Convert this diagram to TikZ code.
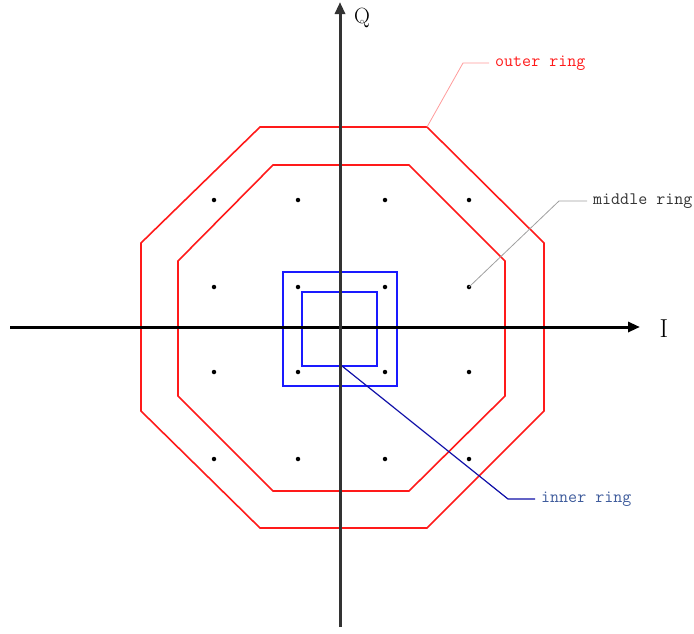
\documentclass[tikz,border=0pt]{standalone}
\usepackage{fontspec}
\usetikzlibrary{arrows.meta}
\definecolor{ringred}{HTML}{FF1A1A}
\definecolor{leadred}{HTML}{FF9A9A}
\definecolor{ringblue}{HTML}{1A1AFF}
\definecolor{leadblue}{HTML}{1010A8}
\definecolor{txtblue}{HTML}{3F5C9C}
\definecolor{txtgray}{HTML}{333333}
\definecolor{leadgray}{HTML}{A0A0A0}
\definecolor{axisgray}{HTML}{333333}
\tikzset{
  axisline/.style={line width=3pt,-{Triangle[length=12pt,width=10pt]}},
  redring/.style={draw=ringred,line width=1.6pt,line join=miter},
  bluering/.style={draw=ringblue,line width=1.6pt},
  dot/.style={circle,fill=black,inner sep=0pt,minimum size=4.5pt},
  lbl/.style={font=\ttfamily\fontsize{17.5}{20}\selectfont,anchor=west,inner xsep=6pt,inner ysep=0pt},
  axlbl/.style={font=\fontsize{22}{24}\selectfont,inner sep=0pt}
}
\begin{document}
\begin{tikzpicture}[x=1pt,y=-1pt]
\useasboundingbox (0,0) rectangle (694,633);
% rings
\draw[redring] (260,127) -- (427,127) -- (544,243) -- (544,411) -- (427,528) -- (260,528) -- (141,411) -- (141,243) -- cycle;
\draw[redring] (273,165) -- (409,165) -- (505,261) -- (505,396) -- (409,491) -- (273,491) -- (178,396) -- (178,261) -- cycle;
\draw[bluering] (283,272) rectangle (397,386);
\draw[bluering] (302,292) rectangle (377,366);
% axes
\coordinate (xs) at (10,327);
\coordinate (xe) at (640,327);
\coordinate (ys) at (340,627);
\coordinate (ye) at (340,2);
\draw[axisline,black] (xs) -- (xe);
\draw[axisline,axisgray] (ys) -- (ye);
\node[axlbl] (Q) at (362,18) {Q};
\node[axlbl,font=\fontsize{26}{28}\selectfont] (I) at (664,329) {I};
% constellation points
\foreach \i/\x in {1/214,2/298,3/385,4/469}{
  \foreach \j/\y in {1/200,2/287,3/372,4/459}{
    \node[dot] (p\i\j) at (\x,\y) {};
  }
}
% leaders
\coordinate (ov) at (427,127);
\coordinate (ok) at (463,63);
\node[lbl,text=ringred] (outer) at (489,63) {outer ring};
\draw[leadred,line width=0.8pt] (ov) -- (ok) -- (outer.west);
\coordinate (mk) at (559,201);
\node[lbl,text=txtgray] (middle) at (587,201) {middle ring};
\draw[leadgray,line width=0.8pt] (p42.center) -- (mk) -- (middle.west);
\coordinate (iv) at (342,366);
\coordinate (ik) at (508,499);
\node[lbl,text=txtblue] (inner) at (535,499) {inner ring};
\draw[leadblue,line width=1.2pt] (iv) -- (ik) -- (inner.west);
\end{tikzpicture}
\end{document}
